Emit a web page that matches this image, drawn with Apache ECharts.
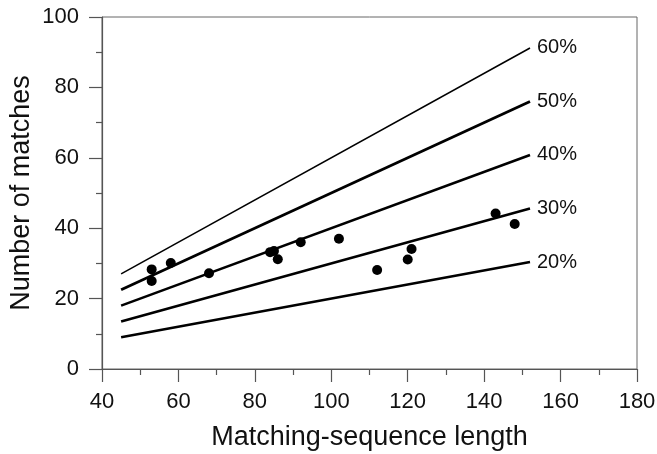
<!DOCTYPE html>
<html>
<head>
<meta charset="utf-8">
<script src="https://cdn.jsdelivr.net/npm/echarts@6/dist/echarts.min.js"></script>
<style>
html,body{margin:0;padding:0;background:#fff;}
#chart{width:657px;height:454px;}
</style>
</head>
<body>
<div id="chart"></div>
<script>
// Scatter points: matching-sequence length vs number of matches
const pointX = [53, 53, 58, 68, 84, 85, 86, 92, 102, 112, 120, 121, 143, 148];
const pointY = [28.3, 25, 30.1, 27.2, 33.2, 33.5, 31.2, 36, 37, 28.1, 31.1, 34.1, 44.2, 41.2];

// Reference lines (start and end values)
const lineNames = ['60%', '50%', '40%', '30%', '20%'];
const lineX = [45, 152];
const line60 = [27, 91.2];
const line50 = [22.5, 76];
const line40 = [18, 60.8];
const line30 = [13.5, 45.6];
const line20 = [9, 30.4];
const lineValues = [line60, line50, line40, line30, line20];
const lineWidths = [1.5, 2.8, 2.6, 2.6, 2.6];

// Axis ticks
const xTicks = [40, 60, 80, 100, 120, 140, 160, 180];
const yTicks = [0, 20, 40, 60, 80, 100];

const FONT = 'Liberation Sans, Arial, Helvetica, sans-serif';

const lineSeries = lineNames.map((name, i) => ({
  type: 'line',
  name: name,
  data: lineX.map((x, j) => [x, lineValues[i][j]]),
  showSymbol: false,
  symbol: 'none',
  lineStyle: { color: '#000', width: lineWidths[i] },
  endLabel: {
    show: true, distance: 7, formatter: name,
    color: '#111', fontSize: 20, fontFamily: FONT
  },
  silent: true,
  z: 2
}));

const chart = echarts.init(document.getElementById('chart'), null, { renderer: 'canvas' });
chart.setOption({
  animation: false,
  backgroundColor: '#fff',
  grid: {
    left: 102, right: 20, top: 17, bottom: 85,
    containLabel: false, outerBoundsMode: 'none',
    show: true, borderColor: '#666', borderWidth: 1, backgroundColor: 'transparent'
  },
  xAxis: {
    type: 'value',
    min: xTicks[0], max: xTicks[xTicks.length - 1], interval: 20,
    name: 'Matching-sequence length',
    nameLocation: 'middle', nameGap: 55,
    nameTextStyle: { color: '#111', fontSize: 27, fontFamily: FONT },
    axisLine: { show: true, lineStyle: { color: '#555', width: 1.2 } },
    axisTick: { show: true, inside: false, length: 13, lineStyle: { color: '#555', width: 1.2 } },
    minorTick: { show: true, splitNumber: 2, length: 6, lineStyle: { color: '#555', width: 1.2 } },
    axisLabel: { color: '#111', fontSize: 22, fontFamily: FONT, margin: 22 },
    splitLine: { show: false }
  },
  yAxis: {
    type: 'value',
    min: yTicks[0], max: yTicks[yTicks.length - 1], interval: 20,
    name: 'Number of matches',
    nameLocation: 'middle', nameGap: 67, nameMoveOverlap: false,
    nameTextStyle: { color: '#111', fontSize: 27, fontFamily: FONT },
    axisLine: { show: true, lineStyle: { color: '#555', width: 1.2 } },
    axisTick: { show: true, inside: false, length: 13, lineStyle: { color: '#555', width: 1.2 } },
    minorTick: { show: true, splitNumber: 2, length: 6, lineStyle: { color: '#555', width: 1.2 } },
    axisLabel: { color: '#111', fontSize: 22, fontFamily: FONT, margin: 23 },
    splitLine: { show: false }
  },
  series: lineSeries.concat([{
    type: 'scatter',
    data: pointX.map((x, i) => [x, pointY[i]]),
    symbol: 'circle',
    symbolSize: 10,
    itemStyle: { color: '#000', opacity: 1 },
    z: 3
  }])
});
</script>
</body>
</html>
